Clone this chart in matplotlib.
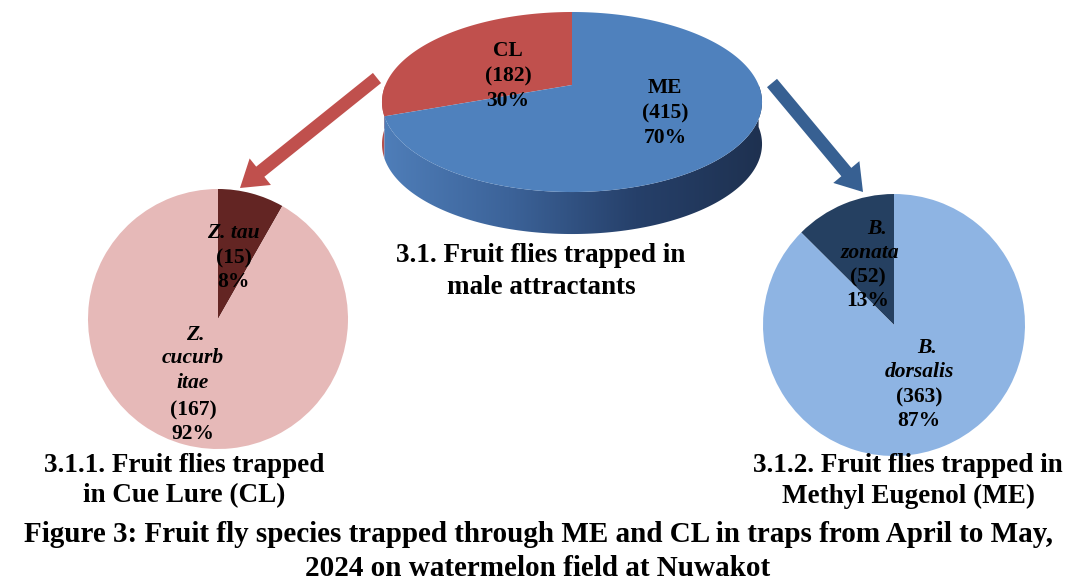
import numpy as np
import matplotlib.pyplot as plt
from matplotlib.patches import Polygon, FancyArrow
from matplotlib.colors import LinearSegmentedColormap

# data
attractants = ['CL', 'ME']
attractant_counts = [182, 415]
cl_species = ['Z. tau', 'Z. cucurbitae']
cl_counts = [15, 167]
me_species = ['B. zonata', 'B. dorsalis']
me_counts = [52, 363]

W, H = 1065, 581
SERIF = 'Liberation Serif'

fig = plt.figure(figsize=(10.65, 5.81), dpi=100)
ax = fig.add_axes([0, 0, 1, 1])
ax.axis('off')


def pct(values):
    tot = sum(values)
    return [f"{round(100 * v / tot)}%" for v in values]


def txt(x, y, s, style='normal', size=15.5):
    ax.text(x, H - y, s, ha='center', va='center', family=SERIF,
            weight='bold', style=style, fontsize=size, zorder=10)


# ---- 3D pie (perspective projection of a tilted disc) ----
cx, cy = 572, H - 85
A, B, K = 186.6, 86.8, 0.189
depth = 42


def proj(theta):
    u, v = np.cos(np.radians(theta)), np.sin(np.radians(theta))
    return cx + A * u / (1 + K * v), cy + B * v / (1 + K * v)


top_colors = ['#C0504D', '#4F81BD']
side_cmaps = [
    LinearSegmentedColormap.from_list('cl', ['#B5514E', '#8E3A38']),
    LinearSegmentedColormap.from_list('me', ['#4F7EB9', '#3C6399', '#26406A', '#1E3150']),
]
fracs = np.array(attractant_counts) / sum(attractant_counts)
bounds = 90 + 360 * np.concatenate([[0], np.cumsum(fracs)])

xs_all = proj(np.linspace(0, 360, 721))[0]
x_lo, x_hi = xs_all.min(), xs_all.max()

for i in range(len(attractant_counts)):
    a0, a1 = bounds[i], bounds[i + 1]
    # visible (front) side part, angles 180..360 taken modulo 360
    for off in (0, 360, -360):
        s0, s1 = max(a0, 180 + off), min(a1, 360 + off)
        if s1 <= s0:
            continue
        th = np.linspace(s0, s1, 200)
        tx, ty = proj(th)
        pts = np.concatenate([np.column_stack([tx, ty]),
                              np.column_stack([tx, ty - depth])[::-1]])
        patch = Polygon(pts, closed=True, facecolor='none', edgecolor='none')
        ax.add_patch(patch)
        im = ax.imshow(np.linspace(0, 1, 256).reshape(1, -1), cmap=side_cmaps[i],
                       extent=(x_lo, x_hi, cy - 200, cy + 10), aspect='auto', zorder=1)
        im.set_clip_path(patch)

for i in range(len(attractant_counts)):
    th = np.linspace(bounds[i], bounds[i + 1], 300)
    tx, ty = proj(th)
    pts = np.vstack([[cx, cy], np.column_stack([tx, ty])])
    ax.add_patch(Polygon(pts, closed=True, facecolor=top_colors[i],
                         edgecolor='none', zorder=2))

top_pct = pct(attractant_counts)
for (x, y), name, n, p in zip([(508, 76), (665, 113)], attractants,
                               attractant_counts, top_pct):
    txt(x, y - 25, name)
    txt(x, y, f"({n})")
    txt(x, y + 25, p)

# ---- 2D pies ----
ax.pie(cl_counts, colors=['#632523', '#E6B9B8'], startangle=90, counterclock=False,
       center=(218, H - 319), radius=130, wedgeprops=dict(linewidth=0))
ax.pie(me_counts, colors=['#254061', '#8EB4E3'], startangle=90, counterclock=True,
       center=(894, H - 325), radius=131, wedgeprops=dict(linewidth=0))

cl_pct = pct(cl_counts)
txt(233, 233, cl_species[0], 'italic')
txt(234, 258, f"({cl_counts[0]})")
txt(233, 282, cl_pct[0])
g, sp = cl_species[1].split(' ')
txt(195, 335, g, 'italic')
txt(193, 358, sp[:6], 'italic')
txt(193, 383, sp[6:], 'italic')
txt(193, 410, f"({cl_counts[1]})")
txt(193, 434, cl_pct[1])

me_pct = pct(me_counts)
g, sp = me_species[0].split(' ')
txt(877, 229, g, 'italic')
txt(870, 253, sp, 'italic')
txt(868, 277, f"({me_counts[0]})")
txt(868, 301, me_pct[0])
g, sp = me_species[1].split(' ')
txt(927, 348, g, 'italic')
txt(919, 372, sp, 'italic')
txt(919, 397, f"({me_counts[1]})")
txt(919, 421, me_pct[1])

# ---- arrows ----
ax.add_patch(FancyArrow(377, H - 78, -137, -110, width=13, head_width=34, head_length=26,
                        length_includes_head=True, color='#C0504D', lw=0, zorder=3))
ax.add_patch(FancyArrow(772, H - 83, 91, -109, width=13, head_width=34, head_length=26,
                        length_includes_head=True, color='#376092', lw=0, zorder=3))

# ---- captions ----
txt(541, 255, '3.1. Fruit flies trapped in', size=19.5)
txt(541, 287, 'male attractants', size=19.5)
txt(184, 466, '3.1.1. Fruit flies trapped', size=19.5)
txt(184, 496, 'in Cue Lure (CL)', size=19.5)
txt(908, 466, '3.1.2. Fruit flies trapped in', size=19.5)
txt(908, 496, 'Methyl Eugenol (ME)', size=19.5)
txt(538, 535, 'Figure 3: Fruit fly species trapped through ME and CL in traps from April to May,', size=21)
txt(538, 568, '2024 on watermelon field at Nuwakot', size=21)

ax.set_aspect('auto')
ax.set_xlim(0, W)
ax.set_ylim(0, H)
fig.savefig('out.png', dpi=100, facecolor='white')
